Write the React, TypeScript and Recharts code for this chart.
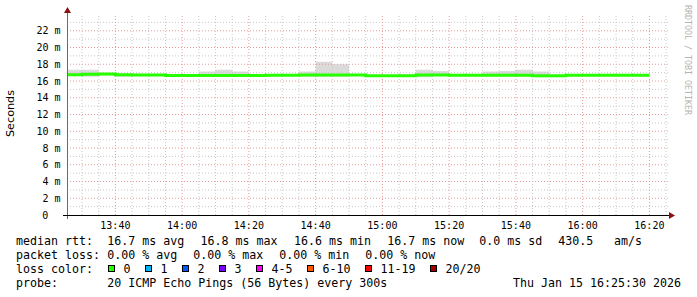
import React from "react";
import { ComposedChart, Area, Line, XAxis, YAxis, ReferenceLine } from "recharts";

// ---- data ----
const timeLabels = [
  "13:25", "13:30", "13:35", "13:40", "13:45", "13:50", "13:55", "14:00", "14:05",
  "14:10", "14:15", "14:20", "14:25", "14:30", "14:35", "14:40", "14:45", "14:50",
  "14:55", "15:00", "15:05", "15:10", "15:15", "15:20", "15:25", "15:30", "15:35",
  "15:40", "15:45", "15:50", "15:55", "16:00", "16:05", "16:10", "16:15", "16:20",
];
const medianMs = [
  16.74, 16.82, 16.84, 16.76, 16.72, 16.72, 16.66, 16.66, 16.66, 16.66, 16.66, 16.66,
  16.7, 16.7, 16.72, 16.72, 16.72, 16.72, 16.64, 16.64, 16.64, 16.72, 16.72, 16.7,
  16.68, 16.68, 16.68, 16.68, 16.64, 16.64, 16.7, 16.7, 16.7, 16.7, 16.7, 16.7,
];
const smokeHighMs = [
  17.33, 17.33, 16.88, 16.82, 16.8, 16.8, 16.72, 16.72, 17.13, 17.33, 17.13, 16.72,
  16.76, 16.76, 17.13, 18.29, 18.0, 16.76, 16.7, 16.72, 16.82, 17.33, 17.2, 16.76,
  16.76, 17.13, 17.2, 17.33, 17.13, 16.72, 16.76, 16.76, 16.76, 16.76, 16.76, 16.76,
];
const smokeLowMs = [
  16.6, 16.5, 16.7, 16.5, 16.6, 16.6, 16.55, 16.55, 16.55, 16.55, 16.55, 16.55,
  16.6, 16.6, 16.5, 16.5, 16.5, 16.6, 16.55, 16.55, 16.55, 16.46, 16.6, 16.6,
  16.58, 16.58, 16.58, 16.58, 16.45, 16.45, 16.6, 16.6, 16.6, 16.6, 16.6, 16.6,
];
const xTickLabels = ["13:40", "14:00", "14:20", "14:40", "15:00", "15:20", "15:40", "16:00", "16:20"];
const yTickValues = [0, 2, 4, 6, 8, 10, 12, 14, 16, 18, 20, 22];
const windowStart = "13:25:30";
const windowEnd = "16:25:30";
const yMax = 24;

const rttStats = ["16.7 ms avg", "16.8 ms max", "16.6 ms min", "16.7 ms now", "0.0 ms sd", "430.5", "am/s"];
const lossStats = ["0.00 % avg", "0.00 % max", "0.00 % min", "0.00 % now"];
const lossLabels = ["0", "1", "2", "3", "4-5", "6-10", "11-19", "20/20"];
const lossColors = ["#26ff00", "#00b8ff", "#0059ff", "#7e00ff", "#ff00ff", "#ff5500", "#ff0000", "#a10000"];
const probeText = "20 ICMP Echo Pings (56 Bytes) every 300s";
const dateText = "Thu Jan 15 16:25:30 2026";

// ---- helpers ----
const toMin = (s: string) => {
  const [h, m, sec = "0"] = s.split(":");
  return Number(h) * 60 + Number(m) + Number(sec) / 60;
};
const fmtMin = (v: number) => {
  const h = Math.floor(v / 60);
  const m = Math.round(v - h * 60);
  return `${String(h).padStart(2, "0")}:${String(m).padStart(2, "0")}`;
};

const data = timeLabels.map((t, i) => ({
  t: toMin(t),
  median: medianMs[i],
  smoke: [smokeLowMs[i], smokeHighMs[i]],
}));

const xStart = toMin(windowStart);
const xEnd = toMin(windowEnd);
const xTicks = xTickLabels.map(toMin);

const minorX: number[] = [];
for (let v = Math.ceil(xStart / 5) * 5; v <= xEnd; v += 5) if (v % 20 !== 0) minorX.push(v);
const minorY: number[] = [];
for (let v = 1; v < yMax; v += 2) minorY.push(v);

const MONO = "'DejaVu Sans Mono', monospace";
const MINOR = "#c8c8c8";
const MAJOR = "#e89a9a";
const ARROW = "#8b1010";

const XTick = (props: any) => (
  <text x={props.x} y={228.5} textAnchor="middle" fontFamily={MONO} fontSize={10} fill="#000">
    {fmtMin(props.payload.value)}
  </text>
);
const YTick = (props: any) => {
  const v = props.payload.value;
  return (
    <text x={v === 0 ? 48.4 : 60.5} y={props.y + 3.6} textAnchor="end" fontFamily={MONO} fontSize={10} fill="#000">
      {v === 0 ? "0" : `${v} m`}
    </text>
  );
};

const CH = 7.0;

export default function App() {
  const rttX = [107.3, 200.6, 293.9, 387.2, 479.3, 558.3, 614];
  const lossX = [107.3, 193.3, 279.3, 365.3];
  let bx = 108.5;
  const boxes = lossLabels.map((lab, i) => {
    const x = bx;
    bx += 37 + CH * (lab.length - 1);
    return { x, lab, color: lossColors[i] };
  });
  return (
    <div style={{ position: "absolute", left: 0, top: 0, width: 697, height: 297, background: "#fff" }}>
      <div style={{ position: "absolute", left: 0, top: 0 }}>
        <ComposedChart width={697} height={297} data={data} margin={{ top: 14, right: 29.25, bottom: 62, left: 7 }}>
          <XAxis
            dataKey="t"
            type="number"
            scale="linear"
            domain={[xStart, xEnd]}
            allowDataOverflow
            ticks={xTicks}
            interval={0}
            tick={<XTick />}
            axisLine={false}
            tickLine={false}
            height={20}
          />
          <YAxis
            type="number"
            domain={[0, yMax]}
            allowDataOverflow
            ticks={yTickValues}
            interval={0}
            tick={<YTick />}
            axisLine={false}
            tickLine={false}
            width={60}
          />
          {minorY.map((v) => (
            <ReferenceLine key={`my${v}`} y={v} stroke={MINOR} strokeDasharray="1 2" />
          ))}
          {yTickValues.filter((v) => v > 0).map((v) => (
            <ReferenceLine key={`My${v}`} y={v} stroke={MAJOR} strokeDasharray="1 2" />
          ))}
          {minorX.map((v) => (
            <ReferenceLine key={`mx${v}`} x={v} stroke={MINOR} strokeDasharray="1 2" />
          ))}
          {xTicks.map((v) => (
            <ReferenceLine key={`Mx${v}`} x={v} stroke={MAJOR} strokeDasharray="1 2" />
          ))}
          <Area
            type="stepAfter"
            dataKey="smoke"
            stroke="none"
            fill="#dadada"
            fillOpacity={1}
            isAnimationActive={false}
            dot={false}
            activeDot={false}
          />
          <Line
            type="stepAfter"
            dataKey="median"
            stroke="#26ff00"
            strokeWidth={3}
            dot={false}
            activeDot={false}
            isAnimationActive={false}
          />
        </ComposedChart>
      </div>
      <svg width={697} height={297} style={{ position: "absolute", left: 0, top: 0, pointerEvents: "none" }}>
        {/* axes */}
        <line x1={67.5} y1={219} x2={67.5} y2={12} stroke="#6a6a6a" strokeWidth={1} />
        <polygon points="64,13 71,13 67.5,7" fill={ARROW} />
        <line x1={63} y1={215.5} x2={670} y2={215.5} stroke="#000" strokeWidth={1} />
        <polygon points="669,212 669,219 675,215.5" fill={ARROW} />
        {/* y label */}
        <text
          x={0}
          y={0}
          transform="translate(14,113.5) rotate(-90)"
          textAnchor="middle"
          fontFamily="'DejaVu Sans', sans-serif"
          fontSize={11.2}
          fill="#000"
        >
          Seconds
        </text>
        {/* watermark */}
        <text
          x={0}
          y={0}
          transform="translate(685,5) rotate(90)"
          textAnchor="start"
          fontFamily={MONO}
          fontSize={8.3}
          fill="#b4b4b4"
        >
          RRDTOOL / TOBI OETIKER
        </text>
        {/* legend */}
        <g fontFamily={MONO} fontSize={11.63} fill="#000">
          <text x={16} y={245}>median rtt:</text>
          {rttStats.map((s, i) => (
            <text key={`r${i}`} x={rttX[i]} y={245}>{s}</text>
          ))}
          <text x={16} y={259}>packet loss:</text>
          {lossStats.map((s, i) => (
            <text key={`l${i}`} x={lossX[i]} y={259}>{s}</text>
          ))}
          <text x={16} y={273}>loss color:</text>
          {boxes.map((b, i) => (
            <g key={`b${i}`}>
              <rect x={b.x} y={265.5} width={6} height={6} fill={b.color} stroke="#000" strokeWidth={1} />
              <text x={b.x + 15} y={273}>{b.lab}</text>
            </g>
          ))}
          <text x={16} y={287}>probe:</text>
          <text x={107.3} y={287}>{probeText}</text>
          <text x={681} y={287} textAnchor="end">{dateText}</text>
        </g>
      </svg>
    </div>
  );
}
